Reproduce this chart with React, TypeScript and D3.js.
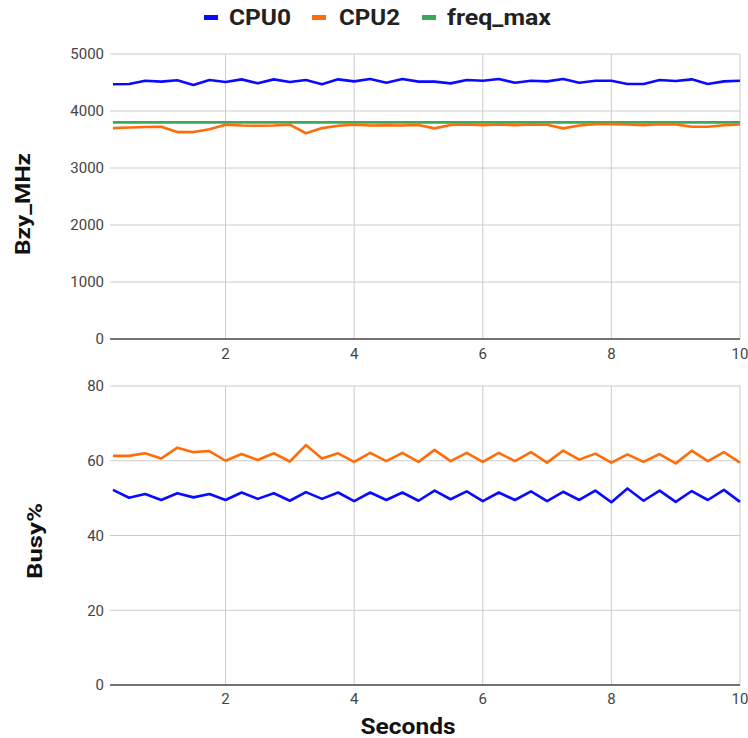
import React from 'react'
import * as d3 from 'd3'

// seconds sampled every 0.25s
const seconds = [
	0.25, 0.5, 0.75, 1, 1.25, 1.5, 1.75, 2, 2.25, 2.5,
	2.75, 3, 3.25, 3.5, 3.75, 4, 4.25, 4.5, 4.75, 5,
	5.25, 5.5, 5.75, 6, 6.25, 6.5, 6.75, 7, 7.25, 7.5,
	7.75, 8, 8.25, 8.5, 8.75, 9, 9.25, 9.5, 9.75, 10,
]

const cpu0Mhz = [
	4470, 4475, 4530, 4515, 4540, 4455, 4545, 4510, 4555, 4485,
	4555, 4510, 4545, 4470, 4555, 4520, 4560, 4495, 4560, 4515,
	4515, 4485, 4545, 4530, 4560, 4495, 4530, 4520, 4560, 4495,
	4530, 4530, 4475, 4475, 4545, 4525, 4555, 4475, 4520, 4530,
]
const cpu2Mhz = [
	3700, 3710, 3720, 3725, 3630, 3630, 3680, 3760, 3745, 3740,
	3745, 3760, 3610, 3700, 3740, 3760, 3745, 3750, 3745, 3755,
	3695, 3755, 3765, 3750, 3765, 3750, 3765, 3760, 3695, 3745,
	3770, 3770, 3765, 3750, 3770, 3765, 3725, 3725, 3750, 3765,
]
const freqMax = [
	3800, 3800, 3800, 3800, 3800, 3800, 3800, 3800, 3800, 3800,
	3800, 3800, 3800, 3800, 3800, 3800, 3800, 3800, 3800, 3800,
	3800, 3800, 3800, 3800, 3800, 3800, 3800, 3800, 3800, 3800,
	3800, 3800, 3800, 3800, 3800, 3800, 3800, 3800, 3800, 3800,
]

const cpu0Busy = [
	52.2, 50.1, 51.1, 49.5, 51.3, 50.2, 51.1, 49.5, 51.5, 49.8,
	51.3, 49.3, 51.6, 49.8, 51.5, 49.2, 51.5, 49.5, 51.5, 49.3,
	52.0, 49.7, 51.8, 49.2, 51.5, 49.5, 51.8, 49.2, 51.7, 49.5,
	52.0, 48.9, 52.6, 49.3, 52.0, 49.0, 51.9, 49.5, 52.2, 49.0,
]
const cpu2Busy = [
	61.3, 61.3, 62.0, 60.6, 63.5, 62.3, 62.6, 60.0, 61.8, 60.2,
	62.0, 59.8, 64.2, 60.6, 62.0, 59.7, 62.1, 59.9, 62.1, 59.7,
	62.9, 59.9, 62.1, 59.7, 62.1, 59.9, 62.3, 59.5, 62.7, 60.3,
	61.9, 59.5, 61.7, 59.7, 61.8, 59.3, 62.7, 59.9, 62.3, 59.5,
]

const xTicks = [2, 4, 6, 8, 10]
const mhzTicks = [0, 1000, 2000, 3000, 4000, 5000]
const busyTicks = [0, 20, 40, 60, 80]

const BLUE = '#0a0aff'
const ORANGE = '#ff6d0a'
const GREEN = '#3aaa5a'
const FONT = 'Roboto, "Liberation Sans", Arial, sans-serif'

const legend = [
	{ label: 'CPU0', color: BLUE, x: 204, tx: 229, len: 62 },
	{ label: 'CPU2', color: ORANGE, x: 312, tx: 339, len: 61 },
	{ label: 'freq_max', color: GREEN, x: 422, tx: 447, len: 104 },
]

const xScale = d3.scaleLinear().domain([0.25, 10]).range([113, 740])

function Panel({ yScale, ticks, series, title, titleX, titleY, titleLen, labelY }) {
	const [y0, y1] = yScale.range()
	const line = d3.line<number>()
		.x((d, i) => xScale(seconds[i]))
		.y(d => yScale(d))
	return (
		<g>
			{ticks.filter(t => t !== 0).map(t => (
				<line key={'h' + t} x1={110} x2={740} y1={yScale(t)} y2={yScale(t)} stroke="#cccccc" strokeWidth={1} />
			))}
			{xTicks.map(t => (
				<line key={'v' + t} x1={xScale(t)} x2={xScale(t)} y1={y1} y2={y0} stroke="#cccccc" strokeWidth={1} />
			))}
			{series.map(s => (
				<path key={s.name} d={line(s.values)} fill="none" stroke={s.color} strokeWidth={2.6} strokeLinejoin="round" />
			))}
			<line x1={110} x2={740} y1={y0} y2={y0} stroke="#444" strokeWidth={1.5} />
			{ticks.map(t => (
				<text key={'yl' + t} x={104} y={yScale(t)} dy="0.36em" textAnchor="end" fontSize={15} fill="#444" fontFamily={FONT}>{t}</text>
			))}
			{xTicks.map(t => (
				<text key={'xl' + t} x={xScale(t)} y={labelY} textAnchor="middle" fontSize={15} fill="#444" fontFamily={FONT}>{t}</text>
			))}
			<text
				transform={`translate(${titleX},${titleY}) rotate(-90)`}
				textAnchor="middle" fontSize={21} fontWeight="bold" fill="#111" fontFamily={FONT}
				textLength={titleLen} lengthAdjust="spacingAndGlyphs"
			>{title}</text>
		</g>
	)
}

export default function App() {
	const mhzScale = d3.scaleLinear().domain([0, 5000]).range([339, 54])
	const busyScale = d3.scaleLinear().domain([0, 80]).range([685, 386])
	return (
		<div style={{ position: 'absolute', left: 0, top: 0 }}>
			<svg width={748} height={738} style={{ display: 'block', background: '#fff' }}>
				{legend.map(l => (
					<g key={l.label}>
						<rect x={l.x} y={15} width={14} height={5} fill={l.color} />
						<text x={l.tx} y={25} fontSize={22} fontWeight="bold" fill="#222" fontFamily={FONT}
							textLength={l.len} lengthAdjust="spacingAndGlyphs">{l.label}</text>
					</g>
				))}
				<Panel
					yScale={mhzScale}
					ticks={mhzTicks}
					series={[
						{ name: 'CPU0', values: cpu0Mhz, color: BLUE },
						{ name: 'freq_max', values: freqMax, color: GREEN },
						{ name: 'CPU2', values: cpu2Mhz, color: ORANGE },
					]}
					title="Bzy_MHz" titleX={30} titleY={204} titleLen={102} labelY={359}
				/>
				<Panel
					yScale={busyScale}
					ticks={busyTicks}
					series={[
						{ name: 'CPU0', values: cpu0Busy, color: BLUE },
						{ name: 'CPU2', values: cpu2Busy, color: ORANGE },
					]}
					title="Busy%" titleX={42} titleY={541} titleLen={76} labelY={704}
				/>
				<text x={408} y={734} textAnchor="middle" fontSize={22} fontWeight="bold" fill="#111" fontFamily={FONT}
					textLength={95} lengthAdjust="spacingAndGlyphs">Seconds</text>
			</svg>
		</div>
	)
}
